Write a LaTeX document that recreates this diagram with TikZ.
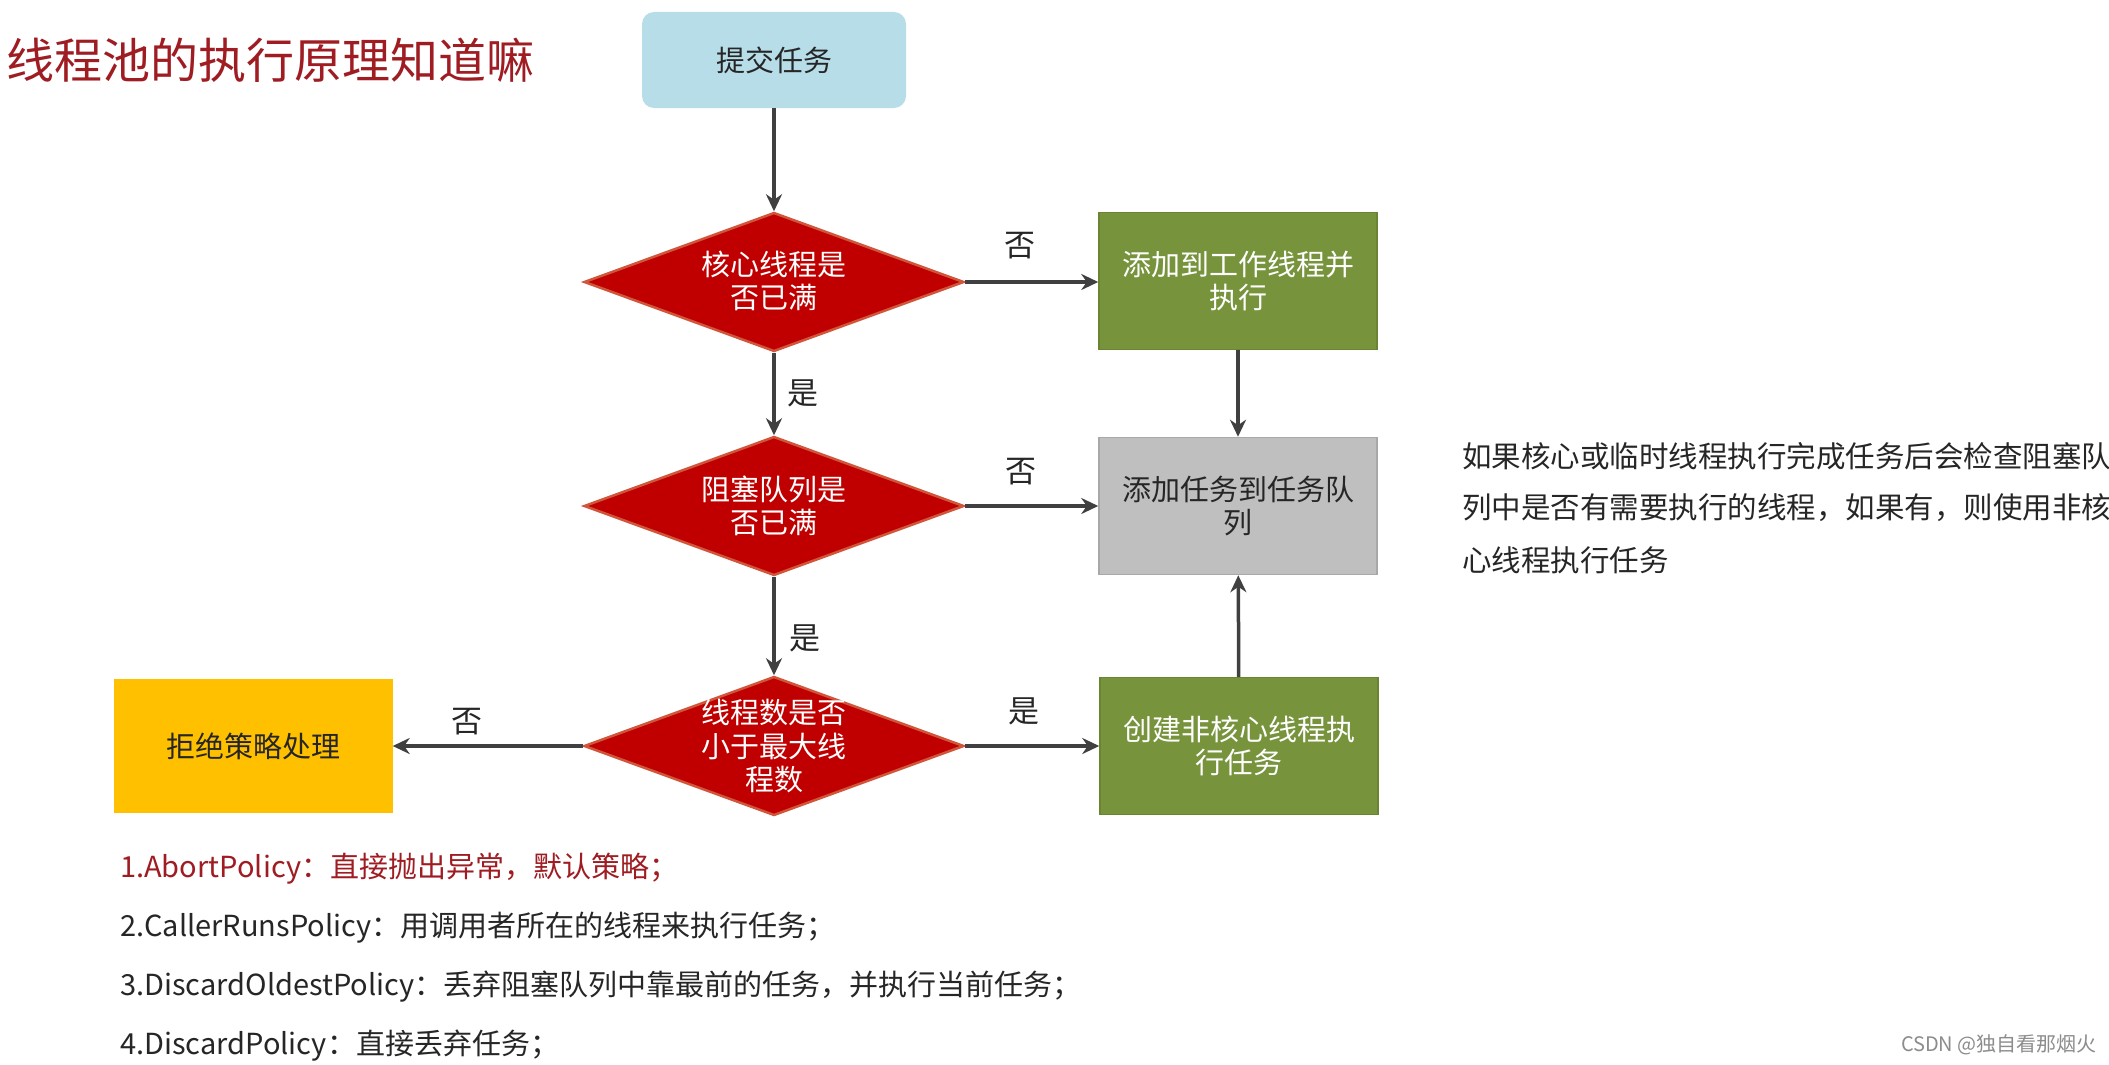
\documentclass[tikz,border=0pt]{standalone}
\usepackage{fontspec}
\setmainfont{Noto Sans CJK SC}
\usetikzlibrary{shapes.geometric,arrows.meta}
\definecolor{titlered}{HTML}{9E1C22}
\definecolor{dred}{HTML}{C00000}
\definecolor{dborder}{HTML}{D0553A}
\definecolor{gfill}{HTML}{77933C}
\definecolor{gborder}{HTML}{6A8532}
\definecolor{grayfill}{HTML}{BFBFBF}
\definecolor{grayborder}{HTML}{A8A8A8}
\definecolor{bluefill}{HTML}{B7DEE8}
\definecolor{yfill}{HTML}{FFC000}
\definecolor{arrowc}{HTML}{404040}
\definecolor{txt}{HTML}{262626}
\tikzset{
  base/.style={font=\fontsize{29}{33}\selectfont, align=center, inner sep=0pt},
  decision/.style={diamond, fill=dred, draw=dborder, line width=2.5pt, minimum width=380pt, minimum height=139pt, inner sep=0pt},
  dtext/.style={base, text=white},
  greenbox/.style={base, rectangle, fill=gfill, draw=gborder, line width=1.5pt, minimum width=278pt, minimum height=137pt, text=white},
  graybox/.style={base, rectangle, fill=grayfill, draw=grayborder, line width=1.5pt, minimum width=278pt, minimum height=137pt, text=txt},
  startbox/.style={base, rectangle, rounded corners=12pt, fill=bluefill, minimum width=264pt, minimum height=96pt, text=txt},
  rejectbox/.style={base, rectangle, fill=yfill, minimum width=279pt, minimum height=134pt, text=txt},
  conn/.style={draw=arrowc, line width=3.5pt, -{Stealth[length=17pt,width=16pt]}},
  yn/.style={font=\fontsize{31}{33}\selectfont, text=txt, inner sep=0pt},
  body/.style={font=\fontsize{29.5}{33}\selectfont, text=txt, inner sep=0pt, anchor=west},
  policy/.style={font=\fontsize{29}{33}\selectfont, text=txt, inner sep=0pt, anchor=west},
}
\begin{document}
\begin{tikzpicture}[x=1pt,y=-1pt]
\useasboundingbox[fill=white] (0,0) rectangle (2109,1065);
% title
\node[anchor=west, inner sep=0pt, text=titlered, font=\fontsize{48}{52}\selectfont] (title) at (6,60) {线程池的执行原理知道嘛};
% nodes
\node[startbox] (submit) at (774,60) {提交任务};
\node[decision] (d1) at (774,282) {};
\node[dtext] (d1t) at (774,281) {核心线程是\\否已满};
\node[greenbox] (g1) at (1238,281) {添加到工作线程并\\执行};
\node[decision] (d2) at (774,506) {};
\node[dtext] (d2t) at (774,506) {阻塞队列是\\否已满};
\node[graybox] (q) at (1238,506) {添加任务到任务队\\列};
\node[decision] (d3) at (774,746) {};
\node[dtext, font=\fontsize{29}{33.5}\selectfont] (d3t) at (774,746) {线程数是否\\小于最大线\\程数};
\node[greenbox] (g2) at (1239,746) {创建非核心线程执\\行任务};
\node[rejectbox] (rej) at (253,746) {拒绝策略处理};
% connectors
\draw[conn] (submit) -- (d1);
\draw[conn] (d1.east) -- (d1.east -| g1.west);
\draw[conn] (d1) -- (d2);
\draw[conn] (g1) -- (q);
\draw[conn] (d2.east) -- (d2.east -| q.west);
\draw[conn] (d2) -- (d3);
\draw[conn] (d3.east) -- (d3.east -| g2.west);
\draw[conn] (d3.west) -- (d3.west -| rej.east);
\draw[conn] (g2) -- (q);
% yes/no labels
\node[yn] (n1) at (1020,246) {否};
\node[yn] (y1) at (803,393) {是};
\node[yn] (n2) at (1021,472) {否};
\node[yn] (y2) at (805,638) {是};
\node[yn] (n3) at (467,722) {否};
\node[yn] (y3) at (1024,711) {是};
% side note
\node[body] (s1) at (1462,456) {如果核心或临时线程执行完成任务后会检查阻塞队};
\node[body] (s2) at (1462,508) {列中是否有需要执行的线程，如果有，则使用非核};
\node[body] (s3) at (1462,560) {心线程执行任务};
% policies
\node[policy, text=titlered] (p1) at (120,869) {1.AbortPolicy：直接抛出异常，默认策略；};
\node[policy] (p2) at (120,928) {2.CallerRunsPolicy：用调用者所在的线程来执行任务；};
\node[policy] (p3) at (120,987) {3.DiscardOldestPolicy：丢弃阻塞队列中靠最前的任务，并执行当前任务；};
\node[policy] (p4) at (120,1046) {4.DiscardPolicy：直接丢弃任务；};
% watermark
\node[anchor=east, inner sep=0pt, text=black!45, font=\fontsize{20}{22}\selectfont] (wm) at (2097,1045) {CSDN @独自看那烟火};
\end{tikzpicture}
\end{document}
